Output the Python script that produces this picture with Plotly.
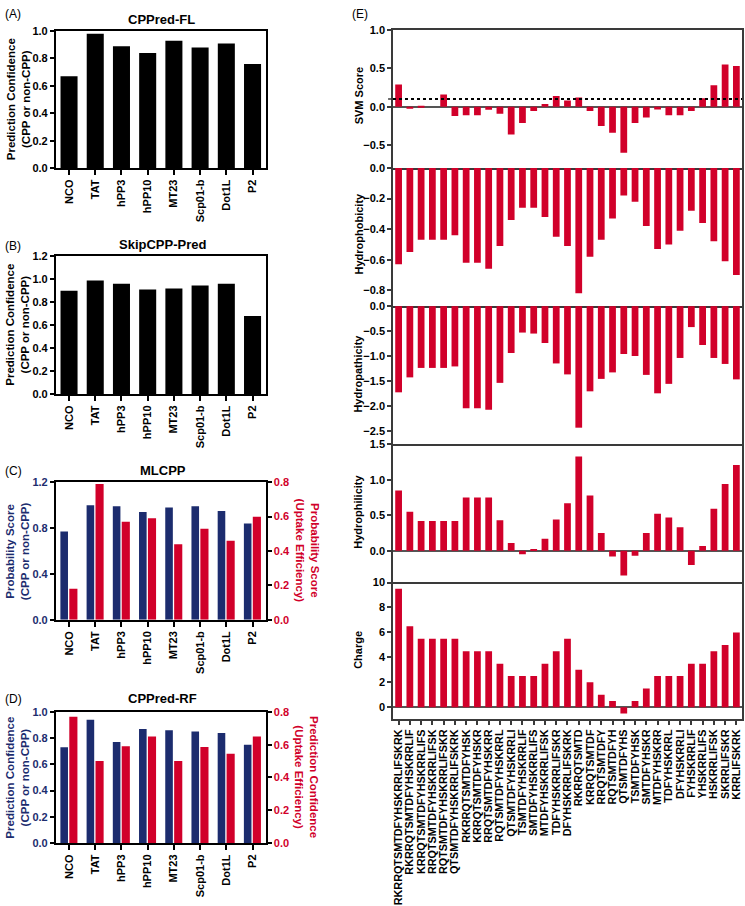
import plotly.graph_objects as go

W, H = 745, 906
FONT = "Liberation Sans, Arial, sans-serif"
NAVY = "#1C2C6E"
RED = "#D1002A"
LINE_E = "#3a3a3a"

# ---------------- data ----------------
tools = ["NCO", "TAT", "hPP3", "hPP10", "MT23", "Scp01-b", "Dot1L", "P2"]
cppred_fl = [0.67, 0.98, 0.89, 0.84, 0.93, 0.88, 0.91, 0.76]
skipcpp_pred = [0.90, 0.99, 0.96, 0.91, 0.92, 0.945, 0.96, 0.68]
mlcpp_cpp = [0.77, 1.00, 0.99, 0.94, 0.98, 0.99, 0.95, 0.84]
mlcpp_uptake = [0.18, 0.79, 0.57, 0.59, 0.44, 0.53, 0.46, 0.60]
cppredrf_cpp = [0.73, 0.94, 0.77, 0.87, 0.86, 0.85, 0.84, 0.75]
cppredrf_uptake = [0.77, 0.50, 0.59, 0.65, 0.50, 0.585, 0.545, 0.65]

peptides = [
    "RKRRQTSMTDFYHSKRRLIFSKRK", "RKRRQTSMTDFYHSKRRLIF", "KRRQTSMTDFYHSKRRLIFS",
    "RRQTSMTDFYHSKRRLIFSK", "RQTSMTDFYHSKRRLIFSKR", "QTSMTDFYHSKRRLIFSKRK",
    "RKRRQTSMTDFYHSK", "KRRQTSMTDFYHSKR", "RRQTSMTDFYHSKRR", "RQTSMTDFYHSKRRL",
    "QTSMTDFYHSKRRLI", "TSMTDFYHSKRRLIF", "SMTDFYHSKRRLIFS", "MTDFYHSKRRLIFSK",
    "TDFYHSKRRLIFSKR", "DFYHSKRRLIFSKRK", "RKRRQTSMTD", "KRRQTSMTDF",
    "RRQTSMTDFY", "RQTSMTDFYH", "QTSMTDFYHS", "TSMTDFYHSK", "SMTDFYHSKR",
    "MTDFYHSKRR", "TDFYHSKRRL", "DFYHSKRRLI", "FYHSKRRLIF", "YHSKRRLIFS",
    "HSKRRLIFSK", "SKRRLIFSKR", "KRRLIFSKRK",
]
svm_score = [0.29, -0.02, 0.01, 0.0, 0.16, -0.12, -0.11, -0.11, -0.04, -0.09,
             -0.36, -0.21, -0.055, 0.035, 0.14, 0.08, 0.12, -0.055, -0.25, -0.34,
             -0.60, -0.21, -0.14, -0.035, -0.11, -0.11, -0.055, 0.11, 0.28, 0.55, 0.53]
svm_threshold = 0.1
hydrophobicity = [-0.63, -0.55, -0.47, -0.47, -0.47, -0.44, -0.62, -0.62, -0.66, -0.51,
                  -0.34, -0.26, -0.26, -0.32, -0.45, -0.51, -0.82, -0.58, -0.47, -0.33,
                  -0.18, -0.22, -0.38, -0.53, -0.50, -0.41, -0.28, -0.36, -0.48, -0.61, -0.70]
hydropathicity = [-1.73, -1.43, -1.24, -1.24, -1.24, -1.21, -2.05, -2.05, -2.08, -1.54,
                  -0.94, -0.53, -0.55, -0.74, -1.15, -1.37, -2.44, -1.71, -1.46, -1.33,
                  -0.96, -1.00, -1.38, -1.75, -1.56, -1.04, -0.42, -0.78, -1.04, -1.16, -1.47]
hydrophilicity = [0.85, 0.55, 0.42, 0.42, 0.42, 0.42, 0.75, 0.75, 0.75, 0.43,
                  0.11, -0.05, 0.01, 0.17, 0.44, 0.67, 1.33, 0.78, 0.25, -0.08,
                  -0.35, -0.07, 0.25, 0.52, 0.47, 0.33, -0.20, 0.065, 0.59, 0.94, 1.21]
charge = [9.5, 6.5, 5.5, 5.5, 5.5, 5.5, 4.5, 4.5, 4.5, 3.5,
          2.5, 2.5, 2.5, 3.5, 4.5, 5.5, 3.0, 2.0, 1.0, 0.5,
          -0.5, 0.5, 1.5, 2.5, 2.5, 2.5, 3.5, 3.5, 4.5, 5.0, 6.0]


# ---------------- helpers ----------------
def px_x(x):
    return x / W


def px_y(y):
    return 1 - y / H


def ydom(top, bottom):
    return [px_y(bottom), px_y(top)]


LEFT_X = [px_x(55), px_x(265)]
RIGHT_X = [px_x(392.5), px_x(742)]


def tickfont(color="black", size=11):
    return dict(family=FONT, size=size, color=color, weight="bold")


def left_y(domain, rng, dtick, anchor, color="black", mirror=True, **kw):
    d = dict(domain=domain, range=rng, dtick=dtick, tick0=0, tickformat=".1f",
             showline=True, linecolor="black", linewidth=2, mirror=mirror,
             ticks="outside", ticklen=4, tickwidth=2, tickcolor="black",
             tickfont=tickfont(color), showgrid=False, zeroline=False,
             anchor=anchor)
    d.update(kw)
    return d


def left_x(anchor):
    return dict(domain=LEFT_X, anchor=anchor, type="category",
                categoryorder="array", categoryarray=tools,
                range=[-0.5, len(tools) - 0.5], tickmode="array", tickvals=tools,
                showline=True, linecolor="black", linewidth=2, mirror=True,
                ticks="outside", ticklen=5, tickwidth=2, tickcolor="black",
                tickangle=-90, tickfont=tickfont(), showgrid=False)


fig = go.Figure()

# ---------------- panel A ----------------
fig.add_trace(go.Bar(x=tools, y=cppred_fl, xaxis="x", yaxis="y",
                     marker=dict(color="black", line=dict(width=0)), width=0.65))
# ---------------- panel B ----------------
fig.add_trace(go.Bar(x=tools, y=skipcpp_pred, xaxis="x2", yaxis="y2",
                     marker=dict(color="black", line=dict(width=0)), width=0.65))
# ---------------- panel C ----------------
fig.add_trace(go.Bar(x=tools, y=mlcpp_cpp, xaxis="x3", yaxis="y3",
                     marker=dict(color=NAVY, line=dict(width=0)), width=0.29, offset=-0.33))
fig.add_trace(go.Bar(x=tools, y=mlcpp_uptake, xaxis="x3", yaxis="y4",
                     marker=dict(color=RED, line=dict(width=0)), width=0.31, offset=0.01))
# ---------------- panel D ----------------
fig.add_trace(go.Bar(x=tools, y=cppredrf_cpp, xaxis="x4", yaxis="y5",
                     marker=dict(color=NAVY, line=dict(width=0)), width=0.29, offset=-0.33))
fig.add_trace(go.Bar(x=tools, y=cppredrf_uptake, xaxis="x4", yaxis="y6",
                     marker=dict(color=RED, line=dict(width=0)), width=0.31, offset=0.01))

# ---------------- panel E ----------------
e_series = [svm_score, hydrophobicity, hydropathicity, hydrophilicity, charge]
for i, vals in enumerate(e_series):
    fig.add_trace(go.Bar(x=peptides, y=vals, xaxis=f"x{5 + i}", yaxis=f"y{7 + i}",
                         marker=dict(color=RED, line=dict(width=0)), width=0.6))

layout = dict(
    width=W, height=H, margin=dict(l=0, r=0, t=0, b=0),
    paper_bgcolor="white", plot_bgcolor="white", showlegend=False,
    font=dict(family=FONT, size=11, color="black"),
    barmode="overlay",
)

# A
layout["xaxis"] = left_x("y")
layout["yaxis"] = left_y(ydom(25, 164.3), [0, 1.003], 0.2, "x")
# B
layout["xaxis2"] = left_x("y2")
layout["yaxis2"] = left_y(ydom(253.3, 393.3), [0, 1.203], 0.2, "x2")
# C
layout["xaxis3"] = left_x("y3")
layout["yaxis3"] = left_y(ydom(482.3, 622), [0, 1.203], 0.4, "x3", color=NAVY, mirror=False)
layout["yaxis4"] = left_y(ydom(482.3, 622), [0, 0.802], 0.2, "x3", color=RED, mirror=False,
                          side="right", overlaying="y3")
# D
layout["xaxis4"] = left_x("y5")
layout["yaxis5"] = left_y(ydom(715, 848.3), [0, 1.003], 0.2, "x4", color=NAVY, mirror=False)
layout["yaxis6"] = left_y(ydom(715, 848.3), [0, 0.802], 0.2, "x4", color=RED, mirror=False,
                          side="right", overlaying="y5")

# E
e_rows = [  # (top px, bottom px, range, dtick, tickformat, zeroline)
    (24, 164, [-0.795, 1.003], 0.5, ".1f", True),
    (164, 304, [-0.903, 0.0015], 0.2, ".1f", False),
    (304, 444, [-2.77, 0.004], 0.5, ".1f", False),
    (444, 584, [-0.445, 1.503], 0.5, ".1f", True),
    (584, 723, [-0.97, 10.02], 2, "d", True),
]
for i, (top, bot, rng, dt, fmt, zl) in enumerate(e_rows):
    xa = f"xaxis{5 + i}"
    ya = f"yaxis{7 + i}"
    first = i == 0
    last = i == len(e_rows) - 1
    layout[xa] = dict(domain=RIGHT_X, anchor=f"y{7 + i}", type="category",
                      categoryorder="array", categoryarray=peptides,
                      range=[-0.5, len(peptides) - 0.5],
                      tickmode="array", tickvals=peptides,
                      showline=True, linecolor=LINE_E, linewidth=1.5,
                      mirror=True if first else False,
                      ticks="outside" if last else "", ticklen=4, tickwidth=1.5,
                      tickcolor=LINE_E, tickangle=-90, tickfont=tickfont(size=10.8),
                      showticklabels=last, showgrid=False)
    layout[ya] = dict(domain=ydom(top, bot), anchor=f"x{5 + i}", range=rng, dtick=dt,
                      tick0=0, tickformat=fmt, showline=True, linecolor=LINE_E,
                      linewidth=1.5, mirror=True, ticks="outside", ticklen=4,
                      tickwidth=1.5, tickcolor=LINE_E, tickfont=tickfont(),
                      showgrid=False, zeroline=zl, zerolinecolor="#555555",
                      zerolinewidth=1.5)

fig.update_layout(**layout)

# threshold dotted line in SVM panel
fig.add_shape(type="line", xref="x5 domain", yref="y7", x0=0, x1=1,
              y0=svm_threshold, y1=svm_threshold,
              line=dict(color="black", width=2, dash="dot"))
fig.add_shape(type="line", xref="x5 domain", yref="y7", x0=-0.014, x1=0,
              y0=svm_threshold, y1=svm_threshold,
              line=dict(color=LINE_E, width=1.5))

ann = []


def text_ann(text, x, y, size=11, color="black", bold=True, angle=0,
             xanchor="center", yanchor="middle"):
    ann.append(dict(text=text, x=px_x(x), y=px_y(y), xref="paper", yref="paper",
                    showarrow=False, textangle=angle, xanchor=xanchor, yanchor=yanchor,
                    font=dict(family=FONT, size=size, color=color,
                              weight="bold" if bold else "normal")))


# panel letters
for lab, y in [("(A)", 8), ("(B)", 243), ("(C)", 471), ("(D)", 702)]:
    text_ann(lab, 2, y, size=12, bold=False, xanchor="left")
text_ann("(E)", 349, 8, size=12, bold=False, xanchor="left")

# panel titles
text_ann("CPPred-FL", 161, 14, size=13)
text_ann("SkipCPP-Pred", 162, 242, size=13)
text_ann("MLCPP", 162, 471, size=13)
text_ann("CPPred-RF", 162, 702, size=13)

# left y titles
text_ann("Prediction Confidence<br>(CPP or non-CPP)", 17, 94.5, size=11.5, angle=-90)
text_ann("Prediction Confidence<br>(CPP or non-CPP)", 17, 323, size=11.5, angle=-90)
text_ann("Probability Score<br>(CPP or non-CPP)", 16.5, 552, size=11.5, angle=-90, color=NAVY)
text_ann("Probability Score<br>(Uptake Efficiency)", 306.5, 552, size=11.5, angle=90, color=RED)
text_ann("Prediction Confidence<br>(CPP or non-CPP)", 16.5, 781.5, size=11.5, angle=-90, color=NAVY)
text_ann("Prediction Confidence<br>(Uptake Efficiency)", 306.5, 781.5, size=11.5, angle=90, color=RED)

# E y titles
for t, yc in [("SVM Score", 91), ("Hydrophobicity", 231), ("Hydropathicity", 373),
              ("Hydrophilicity", 513), ("Charge", 653)]:
    text_ann(t, 358, yc, size=11, angle=-90)

fig.update_layout(annotations=ann)

fig.write_html("out.html", config={"displayModeBar": False},
               post_script="document.body.style.margin='0';document.body.style.padding='0';")
